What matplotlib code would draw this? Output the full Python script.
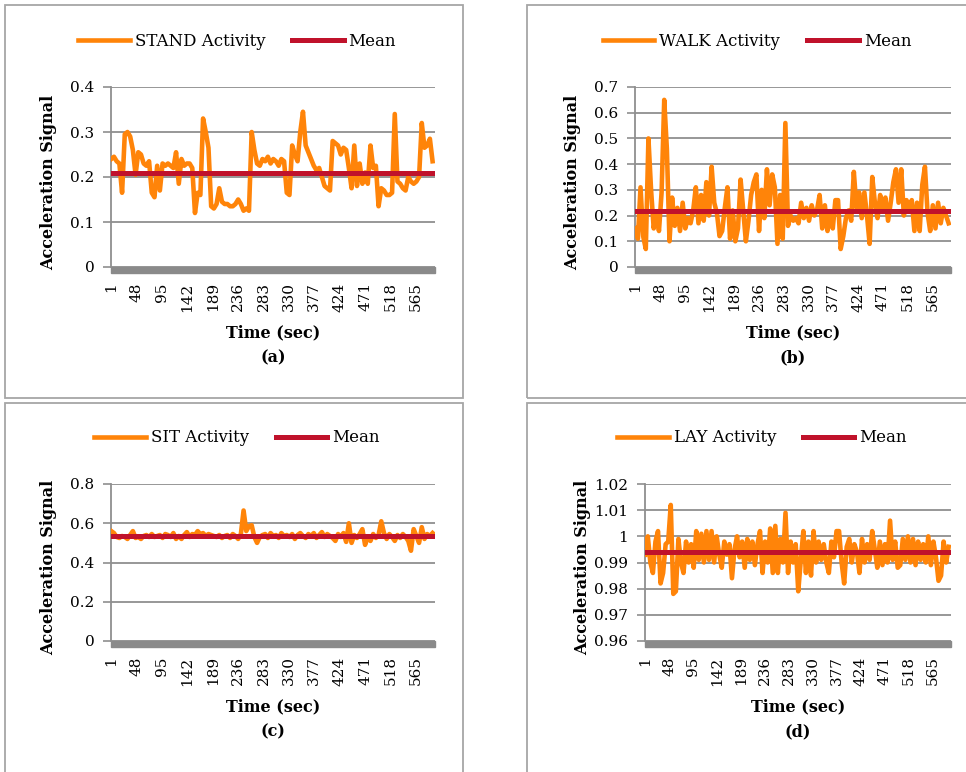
import matplotlib.pyplot as plt
import numpy as np
from matplotlib.patches import Rectangle

plt.rcParams['font.family'] = ['DejaVu Serif']

# one reading every 5 seconds
seconds = np.arange(1, 600, 5)
tick_seconds = [1, 48, 95, 142, 189, 236, 283, 330, 377, 424, 471, 518, 565]

stand = [0.24, 0.245, 0.235, 0.23, 0.165, 0.295, 0.30, 0.29, 0.26, 0.205,
         0.255, 0.25, 0.23, 0.225, 0.235, 0.165, 0.155, 0.225, 0.17, 0.23,
         0.225, 0.23, 0.225, 0.22, 0.255, 0.185, 0.24, 0.225, 0.23, 0.23,
         0.22, 0.12, 0.165, 0.16, 0.33, 0.30, 0.265, 0.135, 0.13, 0.14,
         0.175, 0.145, 0.14, 0.14, 0.135, 0.135, 0.14, 0.15, 0.14, 0.125,
         0.13, 0.125, 0.30, 0.26, 0.23, 0.225, 0.24, 0.235, 0.245, 0.23,
         0.24, 0.235, 0.225, 0.24, 0.235, 0.165, 0.16, 0.27, 0.25, 0.235,
         0.30, 0.345, 0.27, 0.255, 0.24, 0.225, 0.215, 0.22, 0.20, 0.18,
         0.175, 0.17, 0.28, 0.275, 0.27, 0.25, 0.265, 0.26, 0.22, 0.175,
         0.27, 0.18, 0.23, 0.185, 0.21, 0.185, 0.27, 0.22, 0.225, 0.135,
         0.175, 0.17, 0.16, 0.16, 0.165, 0.34, 0.19, 0.185, 0.175, 0.17,
         0.20, 0.19, 0.185, 0.19, 0.20, 0.32, 0.265, 0.27, 0.285, 0.235]

walk = [0.15, 0.11, 0.31, 0.12, 0.07, 0.50, 0.30, 0.15, 0.21, 0.14,
        0.29, 0.65, 0.46, 0.10, 0.27, 0.16, 0.23, 0.14, 0.25, 0.15,
        0.19, 0.17, 0.22, 0.31, 0.17, 0.28, 0.18, 0.33, 0.20, 0.39,
        0.25, 0.21, 0.12, 0.14, 0.23, 0.31, 0.11, 0.22, 0.10, 0.15,
        0.34, 0.22, 0.10, 0.18, 0.28, 0.33, 0.36, 0.14, 0.30, 0.19,
        0.38, 0.24, 0.36, 0.31, 0.09, 0.28, 0.11, 0.56, 0.16, 0.20,
        0.18, 0.19, 0.17, 0.25, 0.19, 0.23, 0.18, 0.24, 0.20, 0.22,
        0.28, 0.15, 0.24, 0.14, 0.21, 0.15, 0.26, 0.26, 0.07, 0.12,
        0.19, 0.22, 0.18, 0.37, 0.23, 0.29, 0.19, 0.29, 0.20, 0.09,
        0.35, 0.25, 0.19, 0.28, 0.22, 0.27, 0.18, 0.25, 0.33, 0.38,
        0.25, 0.38, 0.20, 0.26, 0.22, 0.26, 0.14, 0.25, 0.14, 0.32,
        0.39, 0.21, 0.14, 0.24, 0.15, 0.25, 0.17, 0.23, 0.20, 0.17]

sit = [0.56, 0.55, 0.53, 0.525, 0.535, 0.53, 0.52, 0.54, 0.56, 0.525,
       0.53, 0.52, 0.535, 0.54, 0.53, 0.545, 0.53, 0.535, 0.54, 0.525,
       0.545, 0.54, 0.53, 0.55, 0.52, 0.535, 0.52, 0.54, 0.555, 0.53,
       0.545, 0.54, 0.56, 0.545, 0.55, 0.535, 0.545, 0.54, 0.535, 0.53,
       0.54, 0.525, 0.535, 0.54, 0.525, 0.545, 0.535, 0.52, 0.545, 0.665,
       0.56, 0.585, 0.59, 0.53, 0.50, 0.53, 0.54, 0.545, 0.525, 0.55,
       0.535, 0.54, 0.525, 0.55, 0.535, 0.54, 0.53, 0.545, 0.52, 0.54,
       0.55, 0.535, 0.525, 0.545, 0.535, 0.55, 0.525, 0.54, 0.555, 0.53,
       0.545, 0.535, 0.525, 0.51, 0.545, 0.53, 0.55, 0.505, 0.60, 0.50,
       0.54, 0.525, 0.545, 0.57, 0.49, 0.53, 0.51, 0.545, 0.525, 0.54,
       0.61, 0.55, 0.52, 0.545, 0.53, 0.51, 0.54, 0.525, 0.545, 0.53,
       0.51, 0.46, 0.57, 0.535, 0.50, 0.58, 0.52, 0.545, 0.535, 0.55]

lay = [0.993, 1.000, 0.990, 0.986, 0.998, 1.002, 0.982, 0.986, 0.997, 0.998,
       1.012, 0.978, 0.979, 0.999, 0.990, 0.986, 0.998, 0.990, 0.997, 0.988,
       1.002, 0.991, 1.001, 0.990, 1.002, 0.991, 1.002, 0.990, 1.000, 0.993,
       0.988, 0.998, 0.993, 0.997, 0.984, 0.995, 1.000, 0.992, 0.998, 0.988,
       0.999, 0.991, 0.998, 0.989, 0.997, 1.002, 0.986, 0.998, 0.990, 1.003,
       0.986, 1.004, 0.986, 0.999, 0.990, 1.009, 0.986, 0.998, 0.990, 0.997,
       0.979, 0.991, 1.002, 0.986, 0.998, 0.985, 1.002, 0.990, 0.998, 0.991,
       0.997, 0.990, 0.986, 0.998, 0.992, 1.002, 1.002, 0.990, 0.982, 0.996,
       0.999, 0.990, 0.997, 0.994, 0.986, 0.999, 0.990, 0.997, 0.991, 1.002,
       0.995, 0.988, 0.998, 0.989, 0.997, 0.990, 1.006, 0.991, 0.998, 0.988,
       0.989, 0.999, 0.991, 1.000, 0.990, 0.999, 0.989, 0.998, 0.991, 0.997,
       0.990, 1.000, 0.989, 0.998, 0.992, 0.983, 0.985, 0.998, 0.990, 0.996]

means = {'STAND': 0.208, 'WALK': 0.218, 'SIT': 0.535, 'LAY': 0.994}

ORANGE = '#ff8409'
RED = '#c0122b'
GRID = '#8f8f8f'
W, H = 966, 772


def fx(px):
    return px / W


def fy(py):
    return 1 - py / H


def draw_panel(fig, box, plot, values, name, yticks, ylabels, letter):
    # panel frame
    bx0, by0, bx1, by1 = box
    fig.patches.append(Rectangle((fx(bx0), fy(by1)), fx(bx1 - bx0), (by1 - by0) / H,
                                 transform=fig.transFigure, fill=False,
                                 edgecolor='#a6a6a6', linewidth=1.3))
    x0, y0, x1, y1 = plot
    ax = fig.add_axes([fx(x0), fy(y1), fx(x1 - x0), (y1 - y0) / H])
    ax.set_xlim(0.5, 600.5)
    ax.set_ylim(yticks[0], yticks[-1])

    ax.plot(seconds, values, color=ORANGE, lw=3.3, solid_joinstyle='round',
            label=name + ' Activity', zorder=3)
    ax.axhline(means[name], color=RED, lw=3.6, label='Mean', zorder=4)

    ax.set_yticks(yticks)
    ax.set_yticklabels(ylabels, fontsize=11)
    ax.set_xticks(tick_seconds)
    ax.set_xticklabels([str(t) for t in tick_seconds], rotation=90, fontsize=11)
    ax.tick_params(axis='y', length=6, width=1.2, color=GRID, pad=6)
    ax.tick_params(axis='x', length=0, pad=11)
    ax.yaxis.grid(True, color=GRID, lw=1.3)
    ax.set_axisbelow(True)
    for s in ['top', 'right', 'bottom']:
        ax.spines[s].set_visible(False)
    ax.spines['left'].set_color(GRID)
    ax.spines['left'].set_linewidth(1.3)

    # grey floor under the plot
    h = y1 - y0
    ax.add_patch(Rectangle((0, -6 / h), 1, 6 / h, transform=ax.transAxes,
                           clip_on=False, color='#8a8a8a', zorder=2))

    cx = (x0 + x1) / 2
    ax.legend(loc='center', bbox_to_anchor=(fx(cx - 36), fy(y0 - 46)),
              bbox_transform=fig.transFigure, ncol=2, frameon=False,
              fontsize=12, handlelength=3.1, handletextpad=0.3,
              columnspacing=1.6)
    fig.text(fx(cx), fy(y1 + 66), 'Time (sec)', ha='center', va='center',
             fontsize=11.5, fontweight='bold')
    fig.text(fx(cx), fy(y1 + 91), '(' + letter + ')', ha='center', va='center',
             fontsize=11.5, fontweight='bold')
    fig.text(fx(x0 - 62), fy((y0 + y1) / 2 + 5), 'Acceleration Signal', rotation=90,
             ha='center', va='center', fontsize=11.5, fontweight='bold')
    return ax


def main():
    fig = plt.figure(figsize=(W / 100, H / 100), dpi=100)

    draw_panel(fig, (5, 5, 463, 398), (111, 87, 435, 267), stand, 'STAND',
               [0, 0.1, 0.2, 0.3, 0.4], ['0', '0.1', '0.2', '0.3', '0.4'], 'a')
    draw_panel(fig, (527, 5, 975, 398), (635, 87, 951, 267), walk, 'WALK',
               [0, 0.1, 0.2, 0.3, 0.4, 0.5, 0.6, 0.7],
               ['0', '0.1', '0.2', '0.3', '0.4', '0.5', '0.6', '0.7'], 'b')
    draw_panel(fig, (5, 403, 463, 780), (111, 484, 435, 641), sit, 'SIT',
               [0, 0.2, 0.4, 0.6, 0.8], ['0', '0.2', '0.4', '0.6', '0.8'], 'c')
    draw_panel(fig, (527, 403, 975, 780), (645, 484, 951, 641), lay, 'LAY',
               [0.96, 0.97, 0.98, 0.99, 1.0, 1.01, 1.02],
               ['0.96', '0.97', '0.98', '0.99', '1', '1.01', '1.02'], 'd')

    fig.savefig('out.png', dpi=100)


if __name__ == '__main__':
    main()
